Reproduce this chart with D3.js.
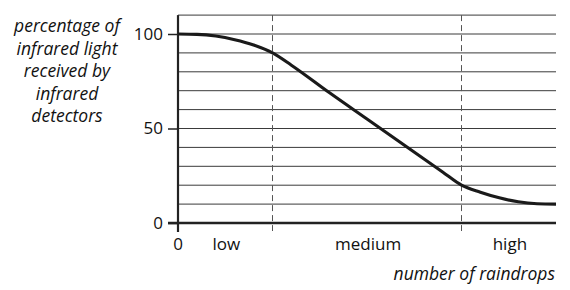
<!DOCTYPE html>
<html><head><meta charset="utf-8">
<script src="https://cdn.jsdelivr.net/npm/d3@7"></script>
<style>
body{margin:0;background:#fff;}
text{font-family:"Open Sans","Noto Sans",sans-serif;fill:#111;}
</style></head>
<body><svg id="c" width="570" height="290"></svg>
<script>
const curveX = [0, 5, 10, 15, 20, 25, 30, 40, 50, 60, 70, 75, 80, 85, 90, 95, 100];
const curveY = [100, 99.8, 98.9, 97, 94.2, 90, 83.5, 69, 55, 41, 27, 20, 16.3, 13.3, 11.2, 10.2, 10];
const yTicks = [0, 50, 100];
const gridValues = [10, 20, 30, 40, 50, 60, 70, 80, 90, 100, 110];
const bandBounds = [25, 75];
const bandLabels = ["low", "medium", "high"];
const bandCenters = [12.8, 50.3, 87.8];
const yLabelLines = ["percentage of", "infrared light", "received by", "infrared", "detectors"];
const xTitle = "number of raindrops";

const svg = d3.select("#c");
const x = d3.scaleLinear().domain([0, 100]).range([178, 556]);
const y = d3.scaleLinear().domain([0, 100]).range([223, 34]);

// horizontal grid
svg.append("g").selectAll("line").data(gridValues).join("line")
  .attr("x1", x(0)).attr("x2", x(100))
  .attr("y1", d => y(d)).attr("y2", d => y(d))
  .attr("stroke", "#3a3a3a").attr("stroke-width", 1);

// dashed band boundaries
svg.append("g").selectAll("line").data(bandBounds).join("line")
  .attr("x1", d => x(d)).attr("x2", d => x(d))
  .attr("y1", y(110)).attr("y2", y(0) + 8)
  .attr("stroke", "#555").attr("stroke-width", 1)
  .attr("stroke-dasharray", "6,4");

// y axis
const yAxis = d3.axisLeft(y).tickValues(yTicks).tickSize(10).tickPadding(5);
const gy = svg.append("g").attr("transform", `translate(${x(0)},0)`).call(yAxis);
gy.select(".domain").remove();
gy.selectAll(".tick line").attr("stroke", "#222").attr("stroke-width", 1.5);
gy.selectAll(".tick text").attr("font-size", 17).attr("font-family", "Open Sans").attr("fill", "#111");

svg.append("line").attr("x1", x(0)).attr("x2", x(0)).attr("y1", y(110)).attr("y2", y(0) + 9)
  .attr("stroke", "#222").attr("stroke-width", 2.2);
svg.append("line").attr("x1", x(0) - 10).attr("x2", x(100)).attr("y1", y(0)).attr("y2", y(0))
  .attr("stroke", "#222").attr("stroke-width", 2.4);

// x labels
svg.append("text").attr("x", x(0)).attr("y", 250).attr("text-anchor", "middle")
  .attr("font-size", 17).text("0");
svg.append("g").selectAll("text").data(bandLabels).join("text")
  .attr("x", (d, i) => x(bandCenters[i])).attr("y", 250).attr("text-anchor", "middle")
  .attr("font-size", 17).text(d => d);

svg.append("text").attr("x", 555).attr("y", 280).attr("text-anchor", "end")
  .attr("font-size", 17.5).attr("font-style", "italic").text(xTitle);

svg.append("g").selectAll("text").data(yLabelLines).join("text")
  .attr("x", 67).attr("y", (d, i) => 32 + i * 22.5).attr("text-anchor", "middle")
  .attr("font-size", 17.5).attr("font-style", "italic").text(d => d);

// curve
const pts = curveX.map((v, i) => [v, curveY[i]]);
svg.append("path").datum(pts)
  .attr("d", d3.line().x(d => x(d[0])).y(d => y(d[1])).curve(d3.curveMonotoneX))
  .attr("fill", "none").attr("stroke", "#1a1a1a").attr("stroke-width", 3.1);
</script></body></html>
